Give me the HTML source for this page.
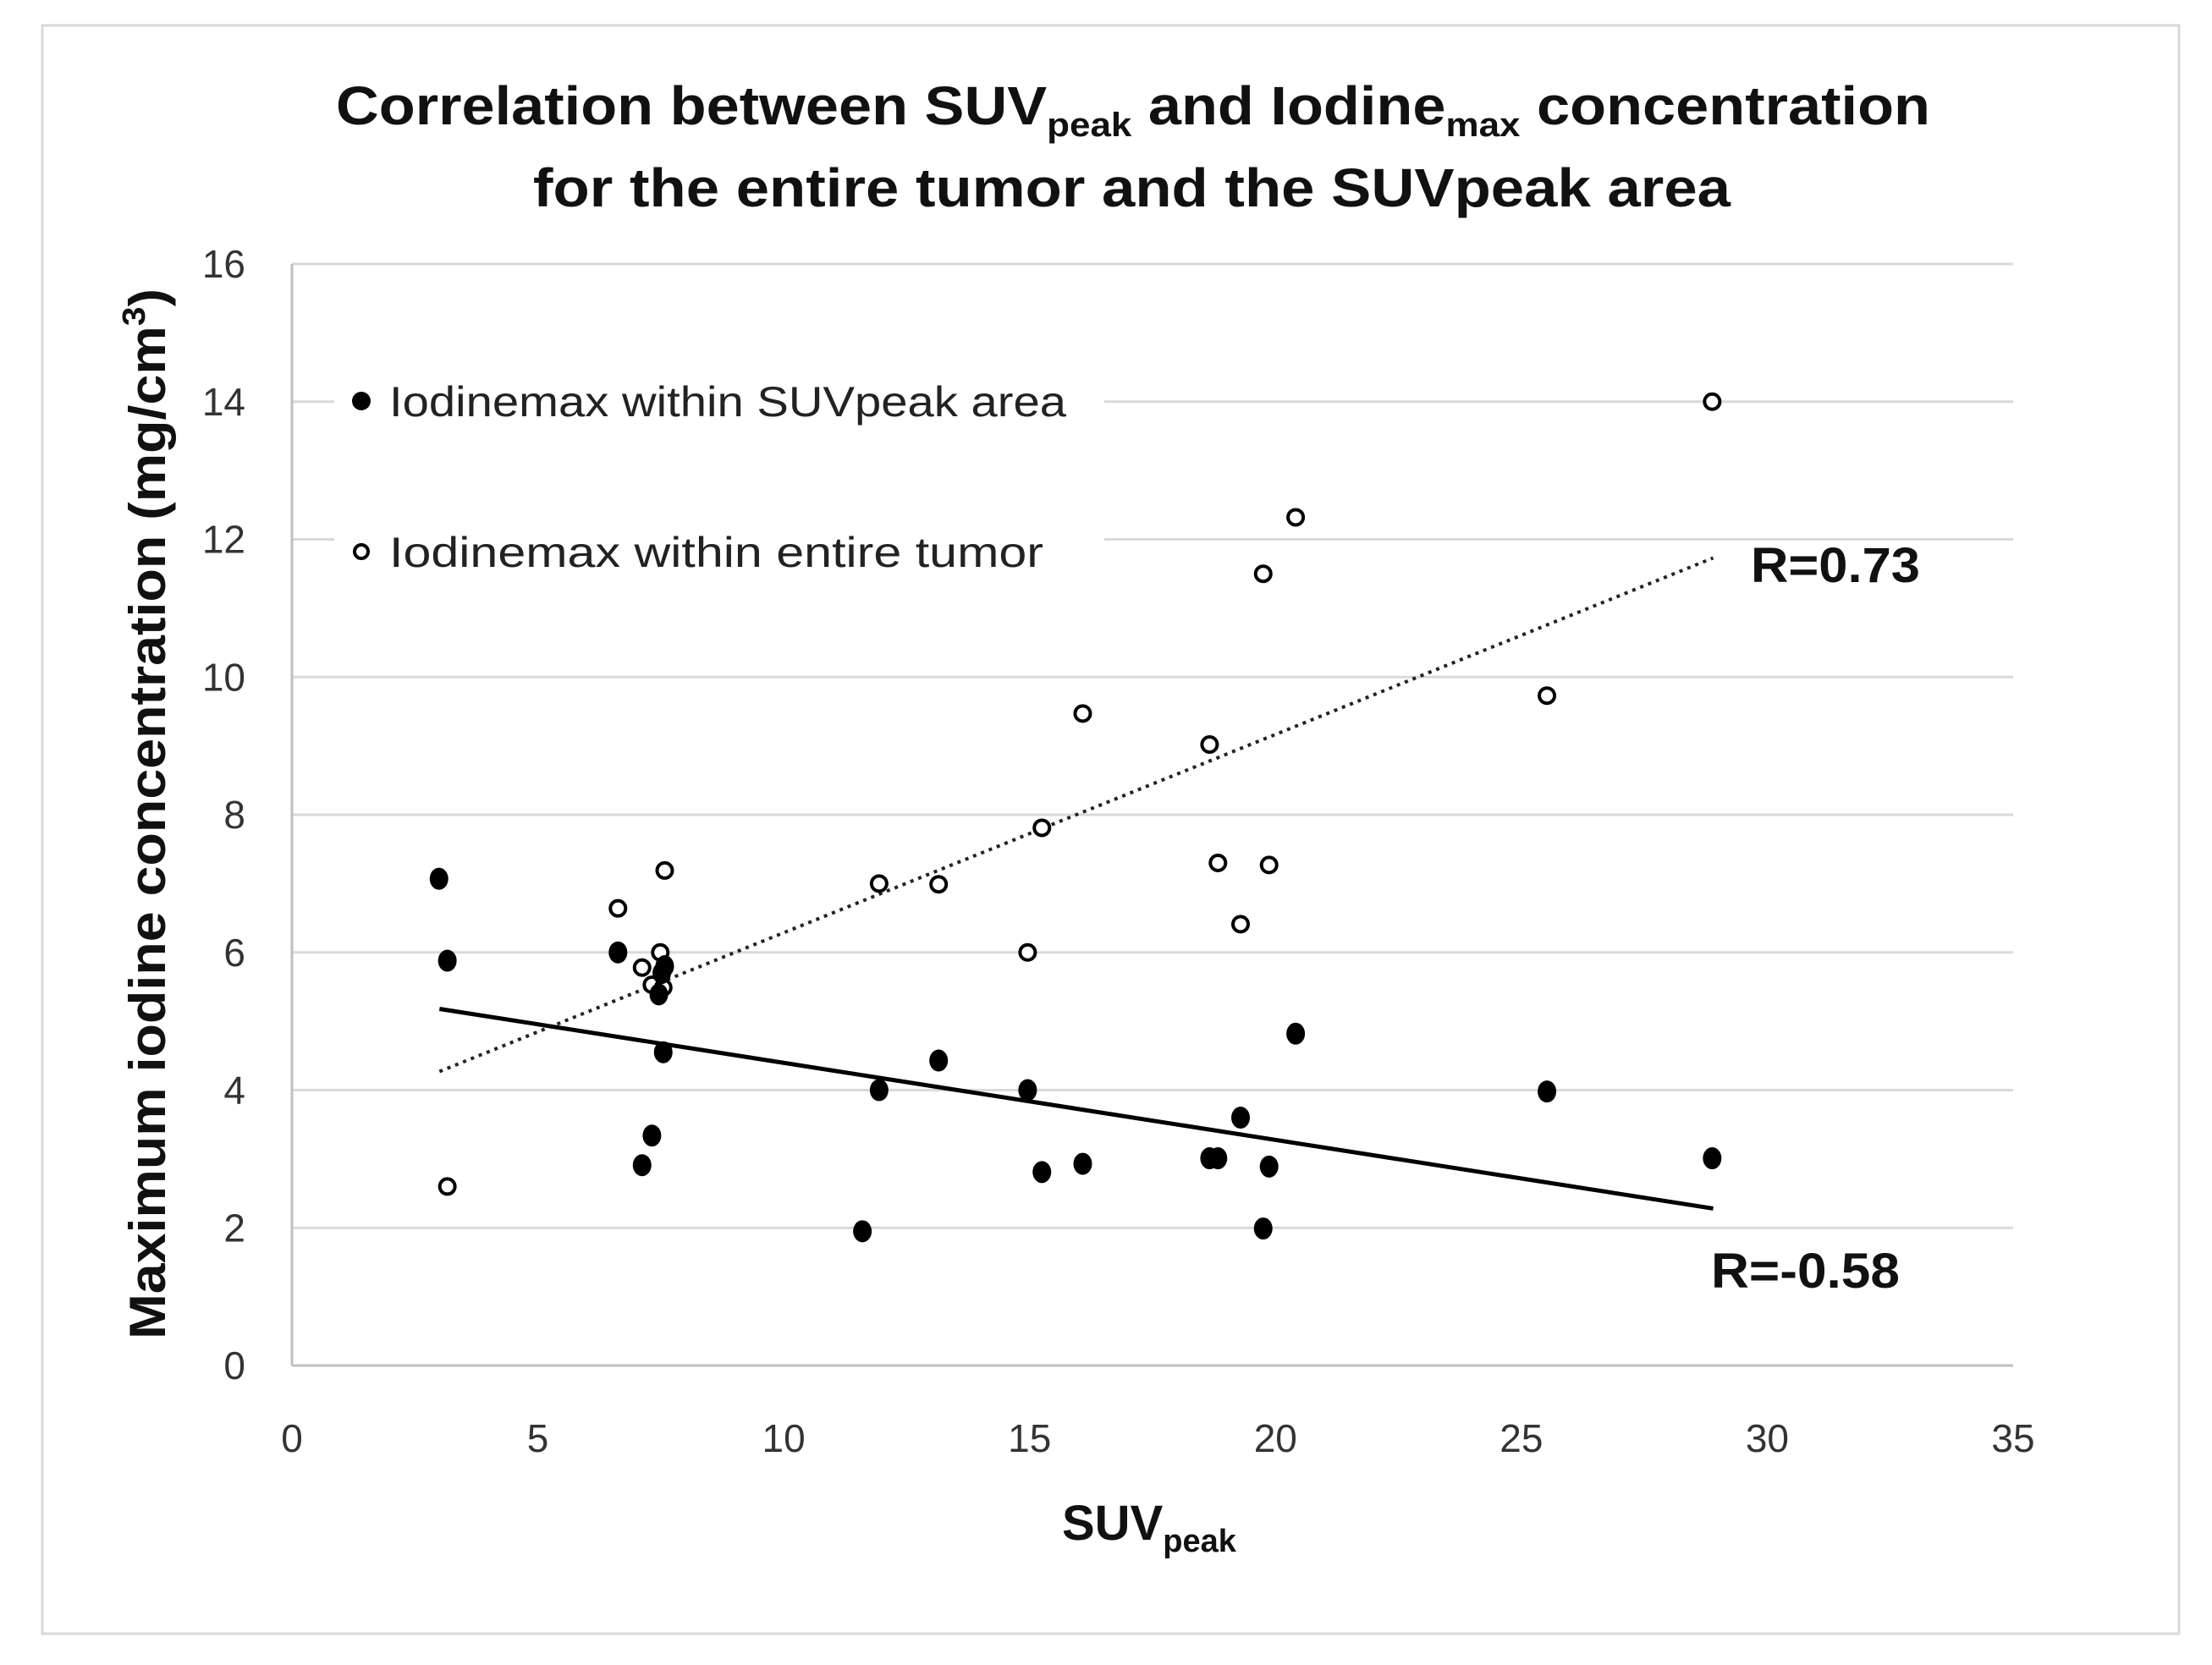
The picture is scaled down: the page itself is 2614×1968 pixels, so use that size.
<!DOCTYPE html>
<html><head><meta charset="utf-8"><style>
html,body{margin:0;padding:0;background:#fff;}
svg{display:block;font-family:"Liberation Sans",sans-serif;}
</style></head><body>
<svg id="chart" width="2614" height="1968" viewBox="0 0 2614 1968" xmlns="http://www.w3.org/2000/svg">
<rect x="50" y="30" width="2525" height="1901" fill="#fff" stroke="#d9d9d9" stroke-width="3"/>
<g font-weight="bold" font-size="64" fill="#111">
<text x="397" y="147" textLength="1884" lengthAdjust="spacingAndGlyphs">Correlation between SUV<tspan font-size="40" dy="14">peak</tspan><tspan dy="-14"> and Iodine</tspan><tspan font-size="40" dy="14">max</tspan><tspan dy="-14"> concentration</tspan></text>
<text x="630" y="244" textLength="1415" lengthAdjust="spacingAndGlyphs">for the entire tumor and the SUVpeak area</text>
</g>
<g id="grid"></g>
<g id="axes"></g>
<g id="trend"></g>
<g id="points"></g>
<g>
<rect x="395" y="430" width="910" height="250" fill="#fff"/>
<circle cx="427" cy="474" r="11" fill="#000"/>
<text x="460" y="492" font-size="50" fill="#222" textLength="800" lengthAdjust="spacingAndGlyphs">Iodinemax within SUVpeak area</text>
<circle cx="427" cy="652" r="8" fill="#fff" stroke="#000" stroke-width="4"/>
<text x="460" y="670" font-size="50" fill="#222" textLength="773" lengthAdjust="spacingAndGlyphs">Iodinemax within entire tumor</text>
</g>
<text x="2069" y="688" font-size="58" font-weight="bold" fill="#111" textLength="200" lengthAdjust="spacingAndGlyphs">R=0.73</text>
<text x="2022" y="1522" font-size="58" font-weight="bold" fill="#111" textLength="223" lengthAdjust="spacingAndGlyphs">R=-0.58</text>
<text x="1255" y="1820" font-size="58" font-weight="bold" fill="#111">SUV<tspan font-size="38" dy="14">peak</tspan></text>
<text transform="translate(195,962) rotate(-90)" text-anchor="middle" font-size="60" font-weight="bold" fill="#111" textLength="1242" lengthAdjust="spacingAndGlyphs">Maximum iodine concentration (mg/cm<tspan font-size="38" dy="-24">3</tspan><tspan dy="24">)</tspan></text>
</svg>
<script>
const xTicks = [0,5,10,15,20,25,30,35];
const yTicks = [0,2,4,6,8,10,12,14,16];
const filledX = [2.99,3.16,6.63,7.12,7.32,7.46,7.52,7.58,7.55,11.6,11.94,13.15,14.96,15.25,16.08,18.66,18.83,19.29,19.75,19.87,20.41,25.52,28.88];
const filledY = [7.07,5.88,6.0,2.91,3.34,5.39,5.7,5.8,4.55,1.95,4.0,4.43,4.0,2.81,2.93,3.01,3.01,3.6,1.99,2.89,4.82,3.98,3.01];
const openX = [3.16,6.63,7.12,7.32,7.49,7.58,7.55,11.94,13.15,14.96,15.25,16.08,18.66,18.83,19.29,19.75,19.87,20.41,25.52,28.88];
const openY = [2.6,6.64,5.78,5.53,6.0,7.19,5.49,7.0,6.99,6.0,7.81,9.47,9.02,7.3,6.41,11.5,7.27,12.32,9.73,14.0];
const trendFilledX = [3.0,28.9];
const trendFilledY = [5.18,2.28];
const trendOpenX = [3.0,28.9];
const trendOpenY = [4.27,11.73];

const NS = "http://www.w3.org/2000/svg";
const X0 = 345, X1 = 2379, Y0 = 1614, Y1 = 312;
function sx(v){ return X0 + (v - 0) / 35 * (X1 - X0); }
function sy(v){ return Y0 - (v - 0) / 16 * (Y0 - Y1); }
function mk(tag, attrs, parent){
  const e = document.createElementNS(NS, tag);
  for (const k in attrs) e.setAttribute(k, attrs[k]);
  parent.appendChild(e);
  return e;
}
const grid = document.getElementById('grid');
const axes = document.getElementById('axes');
yTicks.forEach(t => {
  if (t > 0) {
    const l = mk('line', {x1:X0, x2:X1, y1:sy(t), y2:sy(t), stroke:'#d9d9d9', 'stroke-width':3}, grid);
    
    
  }
  const tx = mk('text', {x:290, y:sy(t)+16, 'text-anchor':'end', 'font-size':46, fill:'#333'}, axes);
  tx.textContent = t;
  
  
});
xTicks.forEach(t => {
  const tx = mk('text', {x:sx(t), y:1716, 'text-anchor':'middle', 'font-size':46, fill:'#333'}, axes);
  tx.textContent = t;
  
  
});
const ya = mk('line', {x1:X0, x2:X0, y1:Y1, y2:Y0, stroke:'#bfbfbf', 'stroke-width':3}, axes);


const xa = mk('line', {x1:X0, x2:X1, y1:Y0, y2:Y0, stroke:'#bfbfbf', 'stroke-width':3}, axes);



const trend = document.getElementById('trend');
const t1 = mk('line', {x1:sx(trendOpenX[0]), y1:sy(trendOpenY[0]), x2:sx(trendOpenX[1]), y2:sy(trendOpenY[1]), stroke:'#222', 'stroke-width':4, 'stroke-dasharray':'4 6'}, trend);


const t2 = mk('line', {x1:sx(trendFilledX[0]), y1:sy(trendFilledY[0]), x2:sx(trendFilledX[1]), y2:sy(trendFilledY[1]), stroke:'#000', 'stroke-width':5}, trend);



const pts = document.getElementById('points');
openX.forEach((v,i) => {
  const c = mk('circle', {cx:sx(v), cy:sy(openY[i]), r:9, fill:'#fff', stroke:'#000', 'stroke-width':4}, pts);
  
  
});
filledX.forEach((v,i) => {
  const c = mk('ellipse', {cx:sx(v), cy:sy(filledY[i]), rx:11, ry:13, fill:'#000'}, pts);
  
  
});
</script>
</body></html>
